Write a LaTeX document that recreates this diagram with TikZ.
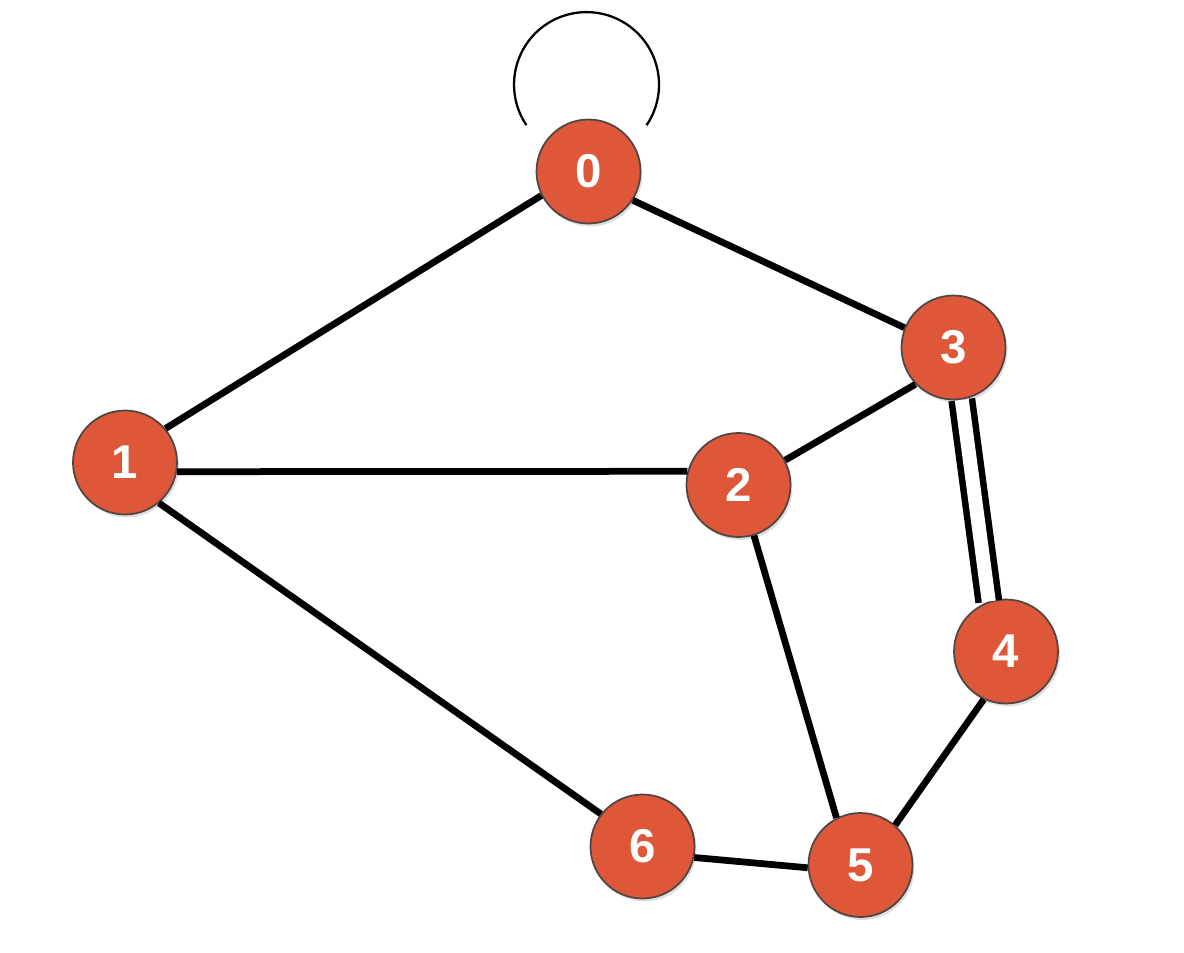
\documentclass[tikz,border=0pt]{standalone}
\usepackage{fontspec}
\setmainfont{Liberation Sans}
\usetikzlibrary{positioning, shadows}
\definecolor{vertexfill}{RGB}{221, 87, 56}
\definecolor{vertexrim}{RGB}{80, 70, 68}

\begin{document}
\begin{tikzpicture}[
        vertex/.style={circle, fill=vertexfill, draw=vertexrim, line width=1pt, minimum size=2.08cm, inner sep=0pt,
                       text=white, font=\fontsize{27}{32}\selectfont\bfseries,
                       drop shadow={opacity=0.25, shadow xshift=0.04cm, shadow yshift=-0.06cm}},
        link/.style={line width=0.135cm},
        twin/.style={double, double distance=0.28cm, line width=0.13cm},
        loopline/.style={line width=1.3pt}
    ]
        \useasboundingbox (0,0) rectangle (23.68,19.04);
        % vertices
        \node[vertex] (v0) at (11.77,15.61) {0};
        \node[vertex] (v1) at (2.50,9.79)   {1};
        \node[vertex] (v2) at (14.77,9.34)  {2};
        \node[vertex] (v3) at (19.07,12.09) {3};
        \node[vertex] (v4) at (20.12,6.01)  {4};
        \node[vertex] (v5) at (17.21,1.74)  {5};
        \node[vertex] (v6) at (12.85,2.11)  {6};
        \coordinate[above=0.68cm of v0, xshift=-0.04cm] (loopc);
        % edges
        \draw[loopline] (loopc) ++(-34:1.45) arc[start angle=-34, end angle=214, radius=1.45];
        \draw[link] (v1.40)  -- (v0.207);
        \draw[link] (v0.-33) -- (v3.158);
        \draw[link] (v1.-10.5) -- (v2.165.5);
        \draw[link] (v2.28)  -- (v3.224);
        \draw[link] (v1.-50) -- (v6.142);
        \draw[link] (v2.-73) -- (v5.117);
        \draw[link] (v6.-12) -- (v5.183);
        \draw[link] (v4.245) -- (v5.49);
        \draw[twin] (v3.-81) -- (v4.109);
    \end{tikzpicture}
\end{document}
